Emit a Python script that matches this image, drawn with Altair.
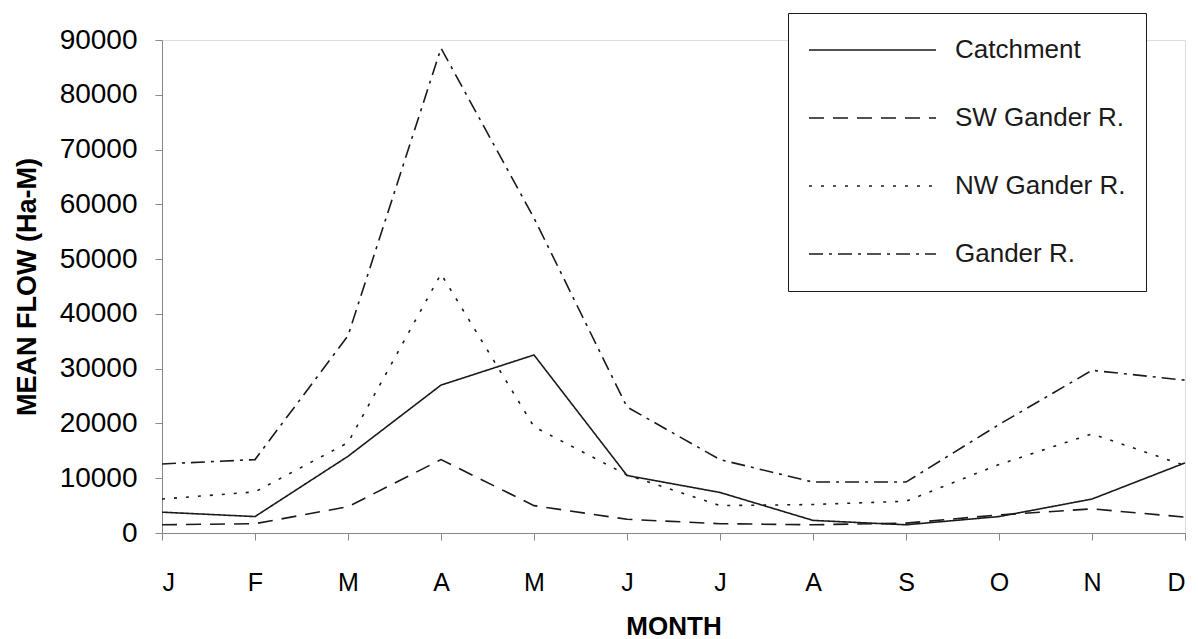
import altair as alt
import pandas as pd

# Monthly mean flow (hectare-metres) for the catchment and its sub-basins
month_index = list(range(1, 13))
month_letters = ["J", "F", "M", "A", "M", "J", "J", "A", "S", "O", "N", "D"]

series_names = ["Catchment", "SW Gander R.", "NW Gander R.", "Gander R."]
catchment = [3800, 3000, 14000, 27000, 32500, 10500, 7400, 2300, 1500, 3000, 6200, 12800]
sw_gander = [1500, 1700, 4800, 13400, 5000, 2500, 1700, 1500, 1800, 3300, 4400, 2900]
nw_gander = [6200, 7500, 16500, 47300, 19400, 10600, 5000, 5200, 5800, 12500, 18100, 12300]
gander = [12600, 13400, 36000, 88500, 57500, 23000, 13400, 9300, 9300, 19800, 29700, 27900]

y_ticks = list(range(0, 90001, 10000))

series_values = [catchment, sw_gander, nw_gander, gander]
rows = []
for name, values in zip(series_names, series_values):
    for m, v in zip(month_index, values):
        rows.append({"month": m, "flow": v, "series": name})
df = pd.DataFrame(rows)

# dash patterns: solid, dashed, dotted, dash-dot
dash_patterns = [[1, 0], [15, 9], [3, 9], [14, 6, 3, 6]]

label_expr = "[" + ",".join(f"'{m}'" for m in month_letters) + "][datum.value - 1]"

font = "Liberation Sans"
ink = "#1a1a1a"

chart = (
    alt.Chart(df)
    .mark_line(strokeWidth=1.6, color=ink)
    .encode(
        x=alt.X(
            "month:Q",
            scale=alt.Scale(domain=[1, 12], nice=False, zero=False),
            axis=alt.Axis(
                title="MONTH",
                values=month_index,
                labelExpr=label_expr,
                grid=False,
                tickSize=7,
                labelPadding=30,
                labelFontSize=25,
                titleFontSize=26,
                titlePadding=18,
            ),
        ),
        y=alt.Y(
            "flow:Q",
            scale=alt.Scale(domain=[0, 90000], nice=False),
            axis=alt.Axis(
                title="MEAN FLOW (Ha-M)",
                values=y_ticks,
                format="d",
                grid=False,
                tickSize=7,
                labelPadding=18,
                labelFontSize=28,
                titleFontSize=27,
                titlePadding=18,
            ),
        ),
        strokeDash=alt.StrokeDash(
            "series:N",
            scale=alt.Scale(domain=series_names, range=dash_patterns),
            legend=alt.Legend(
                title=None,
                orient="none",
                legendX=626,
                legendY=-27,
                symbolType="stroke",
                symbolSize=127 * 127,
                symbolStrokeWidth=1.6,
                symbolStrokeColor=ink,
                clipHeight=34,
                rowPadding=34,
                padding=20,
                labelOffset=18,
                labelFontSize=26,
                labelLimit=400,
                labelFont=font,
                labelColor=ink,
                strokeColor=ink,
                fillColor="white",
            ),
        ),
        detail="series:N",
    )
    .properties(
        width=1023,
        height=493,
        padding={"left": 162, "top": 40, "right": 13, "bottom": 106},
        autosize=alt.AutoSizeParams(type="none"),
    )
    .configure_view(stroke=ink, strokeWidth=1.6)
    .configure_axis(
        domainColor=ink,
        domainWidth=1.6,
        tickColor=ink,
        tickWidth=1.4,
        labelFont=font,
        titleFont=font,
        labelColor=ink,
        titleColor=ink,
        titleFontWeight="bold",
    )
    .configure(background="white")
)

chart.save("out.html", embed_options={"renderer": "svg", "actions": False})
